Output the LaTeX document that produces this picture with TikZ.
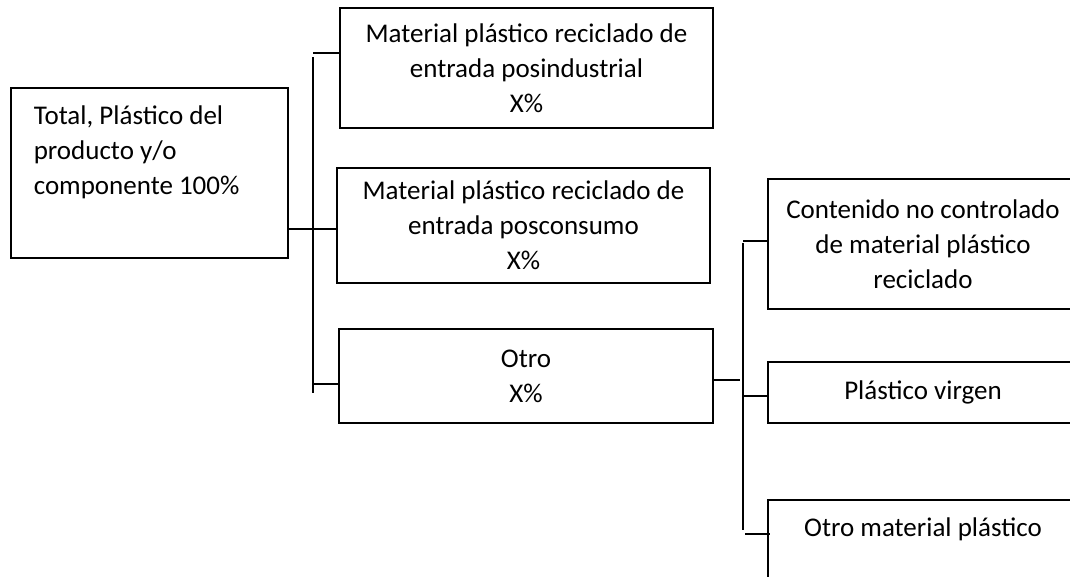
\documentclass[tikz,border=0pt]{standalone}
\usepackage{fontspec}
\setmainfont{Carlito}

\begin{document}
\begin{tikzpicture}[
x=1pt, y=-1pt, line width=1.6pt,
boxnode/.style={rectangle, draw=black, line width=1.6pt, align=center, inner sep=0pt, font=\fontsize{27}{35}\selectfont},
topnode/.style={rectangle, draw=black, line width=1.6pt, anchor=north, inner xsep=0pt, inner ysep=17pt, text height=20pt, font=\fontsize{27}{35}\selectfont}
]
\useasboundingbox (0, 0) rectangle (1070, 576);
\clip (0, 0) rectangle (1070, 576);

\node[topnode, anchor=north west, text width=231pt, inner xsep=23pt, align=flush left, text depth=116pt] at (10, 87) (0) {Total, Plástico del\\producto y/o\\componente 100\%};

\node[boxnode, minimum width=373pt, minimum height=120pt] at (526.5, 68) (1) {Material plástico reciclado de\\entrada posindustrial\\X\%};
\node[boxnode, minimum width=373pt, minimum height=115pt] at (523.5, 225.5) (2) {Material plástico reciclado de\\entrada posconsumo\\X\%};
\node[boxnode, minimum width=374pt, minimum height=94pt] at (526, 376) (3) {Otro\\X\%};

\node[boxnode, minimum width=310pt, minimum height=130pt] at (923, 244) (4) {Contenido no controlado\\de material plástico\\reciclado};
\node[boxnode, minimum width=310pt, minimum height=61pt] at (923, 392.5) (5) {Plástico virgen};
\node[topnode, minimum width=310pt, text depth=100pt] at (923, 499) (6) {Otro material plástico};

\coordinate (l0) at (287, 229);
\coordinate (l1) at (313, 57);
\coordinate (l2) at (313, 393);
\coordinate (l3) at (313, 53);
\coordinate (l4) at (313, 384);
\coordinate (r0) at (740, 380);
\coordinate (r1) at (743, 243);
\coordinate (r2) at (743, 530);
\coordinate (r3) at (743, 241);
\coordinate (r4) at (743, 396);
\coordinate (r5) at (745, 534);

\draw[-] (l0) -- (l0 -| 2.west);
\draw[-] (l1) -- (l2);
\draw[-] (l3) -- (l3 -| 1.west);
\draw[-] (l4) -- (l4 -| 3.west);

\draw[-] (3.east |- r0) -- (r0);
\draw[-] (r1) -- (r2);
\draw[-] (r3) -- (r3 -| 4.west);
\draw[-] (r4) -- (r4 -| 5.west);
\draw[-] (r5) -- ([xshift=3pt]r5 -| 6.west);
\end{tikzpicture}
\end{document}
